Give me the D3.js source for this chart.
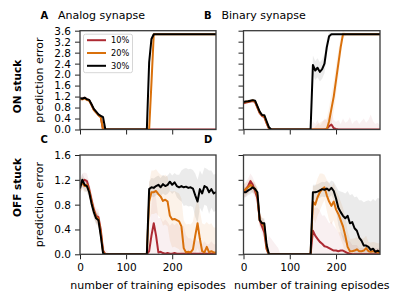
<!DOCTYPE html>
<html><head><meta charset="utf-8">
<script src="https://cdn.jsdelivr.net/npm/d3@7"></script>
<style>body{margin:0;background:#fff}svg{display:block;font-family:"DejaVu Sans",sans-serif}</style>
</head><body><svg id="c" width="400" height="300"></svg>
<script>
// ---------------- DATA ----------------
const episodes = [0,5,10,15,20,25,30,35,40,45,50,55,60,65,70,75,80,85,90,95,100,105,110,115,120,125,130,135,140,145,
  150,155,160,165,170,175,180,185,190,195,200,205,210,215,220,225,230,235,240,245,250,255,260,265,270,275,280,285,290,295];
const seriesNames = ["10%","20%","30%"];
const xTickValues = [0,100,200];
const onTickValues = [0,0.4,0.8,1.2,1.6,2.0,2.4,2.8,3.2,3.6];
const offTickValues = [0,0.4,0.8,1.2,1.6];

// A: ON stuck, analog synapse
const onAnalog10 = [1.10,1.12,1.15,1.10,1.06,0.90,0.72,0.63,0.53,0.46,0,0,0,0,0,0,0,0,0,0,0,0,0,0,0,0,0,0,0,0,
  0,0,0,0,0,0,0,0,0,0,0,0,0,0,0,0,0,0,0,0,0,0,0,0,0,0,0,0,0,0];
const onAnalog20 = [1.12,1.10,1.14,1.08,1.05,0.90,0.72,0.62,0.52,0.45,0,0,0,0,0,0,0,0,0,0,0,0,0,0,0,0,0,0,0,0,
  0,1.70,3.47,3.47,3.47,3.47,3.47,3.47,3.47,3.47,3.47,3.47,3.47,3.47,3.47,3.47,3.47,3.47,3.47,3.47,3.47,3.47,3.47,3.47,3.47,3.47,3.47,3.47,3.47,3.47];
const onAnalog30 = [1.15,1.12,1.16,1.10,1.08,0.92,0.75,0.65,0.55,0.50,0.45,0,0,0,0,0,0,0,0,0,0,0,0,0,0,0,0,0,0,0,
  2.45,3.30,3.47,3.47,3.47,3.47,3.47,3.47,3.47,3.47,3.47,3.47,3.47,3.47,3.47,3.47,3.47,3.47,3.47,3.47,3.47,3.47,3.47,3.47,3.47,3.47,3.47,3.47,3.47,3.47];
const onAnalogSd10 = [0.06,0.07,0.06,0.06,0.07,0.06,0.05,0.05,0.05,0.05,0,0,0,0,0,0,0,0,0,0,0,0,0,0,0,0,0,0,0,0,
  0,0,0,0,0,0,0,0,0,0,0,0,0,0,0,0,0,0,0,0,0,0,0,0,0,0,0,0,0,0];
const onAnalogSd20 = [0.07,0.08,0.07,0.06,0.07,0.06,0.05,0.05,0.05,0.05,0,0,0,0,0,0,0,0,0,0,0,0,0,0,0,0,0,0,0,0,
  0,0.30,0,0,0,0,0,0,0,0,0,0,0,0,0,0,0,0,0,0,0,0,0,0,0,0,0,0,0,0];
const onAnalogSd30 = [0.05,0.05,0.05,0.05,0.05,0.05,0.04,0.04,0.04,0.04,0.04,0,0,0,0,0,0,0,0,0,0,0,0,0,0,0,0,0,0,0,
  0.10,0.10,0,0,0,0,0,0,0,0,0,0,0,0,0,0,0,0,0,0,0,0,0,0,0,0,0,0,0,0];

// B: ON stuck, binary synapse
const onBinary10 = [0.95,0.98,1.00,1.02,1.04,1.00,0.80,0.60,0.50,0.45,0.22,0.03,0,0,0,0,0,0,0,0,0,0,0,0,0,0,0,0,0,0,
  0,0,0,0,0,0,0.02,0.12,0.18,0.05,0.02,0,0,0,0,0,0,0,0,0,0,0,0,0,0,0,0,0,0,0];
const onBinary20 = [0.98,1.00,1.02,1.04,1.06,1.02,0.82,0.62,0.52,0.48,0.25,0.05,0,0,0,0,0,0,0,0,0,0,0,0,0,0,0,0,0,0,
  0,0,0,0,0,0,0,0.30,0.75,1.20,1.80,2.40,3.00,3.47,3.47,3.47,3.47,3.47,3.47,3.47,3.47,3.47,3.47,3.47,3.47,3.47,3.47,3.47,3.47,3.47];
const onBinary30 = [1.00,1.02,1.03,1.05,1.07,1.05,0.85,0.65,0.53,0.52,0.30,0.08,0,0,0,0,0,0,0,0,0,0,0,0,0,0,0,0,0,0,
  2.35,2.15,2.25,2.10,2.20,2.40,3.00,3.40,3.47,3.47,3.47,3.47,3.47,3.47,3.47,3.47,3.47,3.47,3.47,3.47,3.47,3.47,3.47,3.47,3.47,3.47,3.47,3.47,3.47,3.47];
const onBinarySd10 = [0.05,0.05,0.05,0.05,0.05,0.05,0.05,0.05,0.05,0.05,0.05,0.05,0,0,0,0,0,0,0,0,0,0,0,0,0,0,0,0,0,0,
  0.30,0.20,0.35,0.15,0.25,0.40,0.30,0.45,0.50,0.30,0.25,0.35,0.20,0.40,0.25,0.30,0.45,0.20,0.30,0.35,0.20,0.30,0.40,0.25,0.35,0.55,0.30,0.20,0.25,0.15];
const onBinarySd20 = [0.05,0.05,0.05,0.05,0.05,0.05,0.05,0.05,0.05,0.05,0.05,0.05,0,0,0,0,0,0,0,0,0,0,0,0,0,0,0,0,0,0,
  0,0.10,0.20,0.25,0.30,0.35,0.40,0.50,0.55,0.55,0.55,0.50,0.35,0.15,0.05,0,0,0,0,0,0,0,0,0,0,0,0,0,0,0];
const onBinarySd30 = [0.05,0.05,0.05,0.05,0.05,0.05,0.05,0.05,0.05,0.05,0.05,0.05,0,0,0,0,0,0,0,0,0,0,0,0,0,0,0,0,0,0,
  0.35,0.35,0.35,0.35,0.35,0.35,0.30,0.15,0.02,0,0,0,0,0,0,0,0,0,0,0,0,0,0,0,0,0,0,0,0,0];

// C: OFF stuck, analog synapse
const offAnalog10 = [1.10,1.18,1.20,1.18,1.05,0.88,0.72,0.62,0.60,0.40,0.06,0,0,0,0,0,0,0,0,0,0,0,0,0,0,0,0,0,0,0,
  0.05,0.30,0.50,0.30,0.03,0.04,0.02,0.01,0.02,0.01,0.01,0.02,0.01,0.01,0.01,0.01,0.01,0.01,0.01,0.01,0.01,0.01,0.01,0.01,0.01,0.01,0.01,0.01,0.01,0.01];
const offAnalog20 = [1.10,1.15,1.10,1.12,1.02,0.85,0.70,0.60,0.57,0.35,0.04,0,0,0,0,0,0,0,0,0,0,0,0,0,0,0,0,0,0,0,
  0.85,1.00,1.00,1.02,0.97,0.93,0.86,0.88,0.85,0.62,0.56,0.57,0.55,0.53,0.45,0.10,0.03,0.04,0.03,0.08,0.30,0.50,0.25,0.05,0.03,0.12,0.03,0.05,0.03,0.03];
const offAnalog30 = [1.06,1.20,1.12,1.10,1.00,0.82,0.68,0.58,0.55,0.30,0.02,0,0,0,0,0,0,0,0,0,0,0,0,0,0,0,0,0,0,0,
  1.05,1.08,1.07,1.10,1.12,1.08,1.13,1.10,1.12,1.17,1.12,1.16,1.10,1.08,1.10,1.08,1.09,1.07,1.08,1.06,0.95,0.85,1.05,0.98,1.10,1.08,1.00,1.05,0.98,1.00];
const offAnalogSd10 = [0.12,0.12,0.12,0.12,0.12,0.12,0.12,0.12,0.12,0.12,0.12,0.08,0.04,0,0,0,0,0,0,0,0,0,0,0,0,0,0,0,0,0,
  0.30,0.50,0.60,0.60,0.55,0.55,0.50,0.55,0.50,0.45,0.50,0.45,0.50,0.45,0.40,0.45,0.30,0.25,0.25,0.20,0.25,0.20,0.20,0.15,0.20,0.15,0.15,0.20,0.15,0.15];
const offAnalogSd20 = [0.10,0.10,0.10,0.10,0.10,0.10,0.10,0.10,0.10,0.10,0.10,0,0,0,0,0,0,0,0,0,0,0,0,0,0,0,0,0,0,0,
  0.30,0.35,0.35,0.35,0.35,0.35,0.40,0.40,0.40,0.40,0.45,0.45,0.45,0.45,0.45,0.45,0.45,0.45,0.45,0.45,0.45,0.40,0.45,0.45,0.45,0.40,0.45,0.45,0.40,0.40];
const offAnalogSd30 = [0.10,0.10,0.10,0.10,0.10,0.10,0.10,0.10,0.10,0.10,0.10,0,0,0,0,0,0,0,0,0,0,0,0,0,0,0,0,0,0,0,
  0.12,0.15,0.15,0.15,0.15,0.15,0.15,0.15,0.15,0.15,0.15,0.15,0.18,0.20,0.25,0.30,0.30,0.30,0.30,0.30,0.35,0.35,0.30,0.30,0.30,0.30,0.35,0.30,0.30,0.30];

// D: OFF stuck, binary synapse
const offBinary10 = [1.00,1.05,1.10,1.18,1.12,1.02,0.90,0.55,0.45,0.35,0.08,0,0,0,0,0,0,0,0,0,0,0,0,0,0,0,0,0,0,0,
  0.38,0.30,0.25,0.20,0.17,0.13,0.12,0.10,0.08,0.06,0.06,0.05,0.06,0.06,0.04,0.02,0.01,0,0,0,0,0,0,0,0,0,0,0,0,0];
const offBinary20 = [1.02,1.05,1.08,1.12,1.08,1.06,0.95,0.55,0.50,0.45,0.10,0,0,0,0,0,0,0,0,0,0,0,0,0,0,0,0,0,0,0,
  0.85,0.80,0.92,1.00,1.05,1.08,0.95,0.85,0.78,0.85,0.72,0.65,0.55,0.45,0.30,0.12,0.05,0.05,0.06,0.08,0.05,0.05,0.06,0.10,0.05,0.04,0.05,0.04,0.03,0.03];
const offBinary30 = [1.00,1.00,1.03,1.05,1.08,1.05,1.00,0.55,0.50,0.50,0.15,0,0,0,0,0,0,0,0,0,0,0,0,0,0,0,0,0,0,0,
  1.00,1.00,1.01,1.03,1.05,1.04,1.06,1.03,1.07,1.02,0.90,0.75,0.68,0.62,0.58,0.62,0.50,0.52,0.42,0.38,0.27,0.22,0.14,0.14,0.12,0.07,0.09,0.04,0.06,0.04];
const offBinarySd10 = [0.12,0.12,0.12,0.12,0.12,0.12,0.12,0.12,0.12,0.12,0.12,0.30,0.25,0.20,0.15,0.10,0,0,0,0,0,0,0,0,0,0,0,0,0,0,
  0.35,0.45,0.50,0.50,0.45,0.50,0.45,0.40,0.45,0.40,0.35,0.30,0.30,0.25,0.25,0.20,0.20,0.15,0.15,0.15,0.10,0.10,0.10,0.10,0.10,0.10,0.10,0.10,0.10,0.10];
const offBinarySd20 = [0.10,0.10,0.10,0.10,0.10,0.10,0.10,0.10,0.10,0.10,0.10,0,0,0,0,0,0,0,0,0,0,0,0,0,0,0,0,0,0,0,
  0.25,0.30,0.30,0.30,0.25,0.20,0.25,0.30,0.30,0.30,0.30,0.30,0.30,0.30,0.30,0.25,0.20,0.20,0.20,0.20,0.20,0.20,0.20,0.20,0.15,0.15,0.15,0.15,0.15,0.15];
const offBinarySd30 = [0.08,0.08,0.08,0.08,0.08,0.08,0.08,0.08,0.08,0.08,0.08,0,0,0,0,0,0,0,0,0,0,0,0,0,0,0,0,0,0,0,
  0.12,0.12,0.12,0.12,0.12,0.12,0.12,0.12,0.12,0.15,0.20,0.28,0.33,0.38,0.40,0.40,0.45,0.45,0.50,0.55,0.60,0.65,0.70,0.72,0.75,0.78,0.80,0.82,0.85,0.85];

// ---------------- DRAWING ----------------
const colors = ["#ad2a33", "#d9700b", "#000000"];
const bandOpacity = [0.07, 0.09, 0.08];
const svg = d3.select("#c");
const font = '"DejaVu Sans", sans-serif';

const panels = [
  {id:"A", title:"Analog synapse", left:80, top:30.7, w:136, h:98.8, ymax:3.6, yticks:onTickValues,
   ylab:true, xlab:false, legend:true, means:[onAnalog10,onAnalog20,onAnalog30], sds:[onAnalogSd10,onAnalogSd20,onAnalogSd30]},
  {id:"B", title:"Binary synapse", left:243.5, top:30.7, w:136.5, h:98.8, ymax:3.6, yticks:onTickValues,
   ylab:false, xlab:false, legend:false, means:[onBinary10,onBinary20,onBinary30], sds:[onBinarySd10,onBinarySd20,onBinarySd30]},
  {id:"C", title:null, left:80, top:155, w:136, h:99.3, ymax:1.6, yticks:offTickValues,
   ylab:true, xlab:true, legend:false, means:[offAnalog10,offAnalog20,offAnalog30], sds:[offAnalogSd10,offAnalogSd20,offAnalogSd30]},
  {id:"D", title:null, left:243.5, top:155, w:136.5, h:99.3, ymax:1.6, yticks:offTickValues,
   ylab:false, xlab:true, legend:false, means:[offBinary10,offBinary20,offBinary30], sds:[offBinarySd10,offBinarySd20,offBinarySd30]}
];

panels.forEach((p, pi) => {
  const g = svg.append("g").attr("transform", `translate(${p.left},${p.top})`);
  const x = d3.scaleLinear().domain([0, 295]).range([0, p.w]);
  const y = d3.scaleLinear().domain([0, p.ymax]).range([p.h, 0]);

  const clipId = "clip" + pi;
  g.append("clipPath").attr("id", clipId).append("rect").attr("width", p.w).attr("height", p.h);
  const plot = g.append("g").attr("clip-path", `url(#${clipId})`);

  p.means.forEach((m, si) => {
    const sd = p.sds[si];
    const area = d3.area()
      .x((d, i) => x(episodes[i]))
      .y0((d, i) => y(Math.max(0, m[i] - sd[i])))
      .y1((d, i) => y(m[i] + sd[i]));
    plot.append("path").datum(m).attr("d", area)
      .attr("fill", colors[si]).attr("fill-opacity", bandOpacity[si]).attr("stroke", "none");
  });
  p.means.forEach((m, si) => {
    const line = d3.line().x((d, i) => x(episodes[i])).y(d => y(d));
    plot.append("path").datum(m).attr("d", line)
      .attr("fill", "none").attr("stroke", colors[si]).attr("stroke-width", 2)
      .attr("stroke-linejoin", "round");
  });

  const fmt = d3.format(".1f");
  const ya = g.append("g").call(d3.axisLeft(y).tickValues(p.yticks).tickSize(5).tickPadding(4)
      .tickFormat(p.ylab ? fmt : ""));
  const xa = g.append("g").attr("transform", `translate(0,${p.h})`)
      .call(d3.axisBottom(x).tickValues(xTickValues).tickSize(5).tickPadding(4)
      .tickFormat(p.xlab ? d3.format("d") : ""));
  [ya, xa].forEach(a => {
    a.select(".domain").remove();
    a.selectAll("line").attr("stroke", "#222").attr("stroke-width", 1);
    a.selectAll("text").attr("font-size", 10.5).attr("font-family", font).attr("fill", "#000");
  });

  g.append("rect").attr("x", 0).attr("y", 0).attr("width", p.w).attr("height", p.h)
    .attr("fill", "none").attr("stroke", "#3a3a3a").attr("stroke-width", 1.3);

  svg.append("text").attr("x", p.left - 39.5).attr("y", p.top - 12.2)
    .attr("font-size", 10).attr("font-weight", "bold").attr("font-family", font).text(p.id);
  if (p.title) {
    svg.append("text").attr("x", p.left - 22).attr("y", p.top - 12.2)
      .attr("font-size", 11).attr("font-family", font).text(p.title);
  }
  if (p.ylab) {
    svg.append("text").attr("transform", `translate(${p.left - 37},${p.top + p.h / 2}) rotate(-90)`)
      .attr("text-anchor", "middle").attr("font-size", 11).attr("font-family", font).text("prediction error");
  }
  if (p.xlab) {
    svg.append("text").attr("x", p.left + p.w / 2).attr("y", p.top + p.h + 35)
      .attr("text-anchor", "middle").attr("font-size", 11).attr("font-family", font).text("number of training episodes");
  }
  if (p.legend) {
    const lg = g.append("g").attr("transform", "translate(3.5,3.5)");
    lg.append("rect").attr("width", 49).attr("height", 38.5).attr("rx", 2)
      .attr("fill", "#fff").attr("fill-opacity", 0.85).attr("stroke", "#cccccc").attr("stroke-width", 0.8);
    seriesNames.forEach((n, si) => {
      const yy = 6 + si * 12.8;
      lg.append("line").attr("x1", 3.5).attr("x2", 22.5).attr("y1", yy).attr("y2", yy)
        .attr("stroke", colors[si]).attr("stroke-width", 2);
      lg.append("text").attr("x", 27.5).attr("y", yy + 3).attr("font-size", 8.2).attr("font-family", font).text(n);
    });
  }
});

const rowLabels = [{t:"ON stuck", cy:86.5}, {t:"OFF stuck", cy:187.5}];
rowLabels.forEach(r => {
  svg.append("text").attr("transform", `translate(20.5,${r.cy}) rotate(-90)`)
    .attr("text-anchor", "middle").attr("font-size", 10.5).attr("font-weight", "bold")
    .attr("font-family", font).text(r.t);
});
</script></body></html>
